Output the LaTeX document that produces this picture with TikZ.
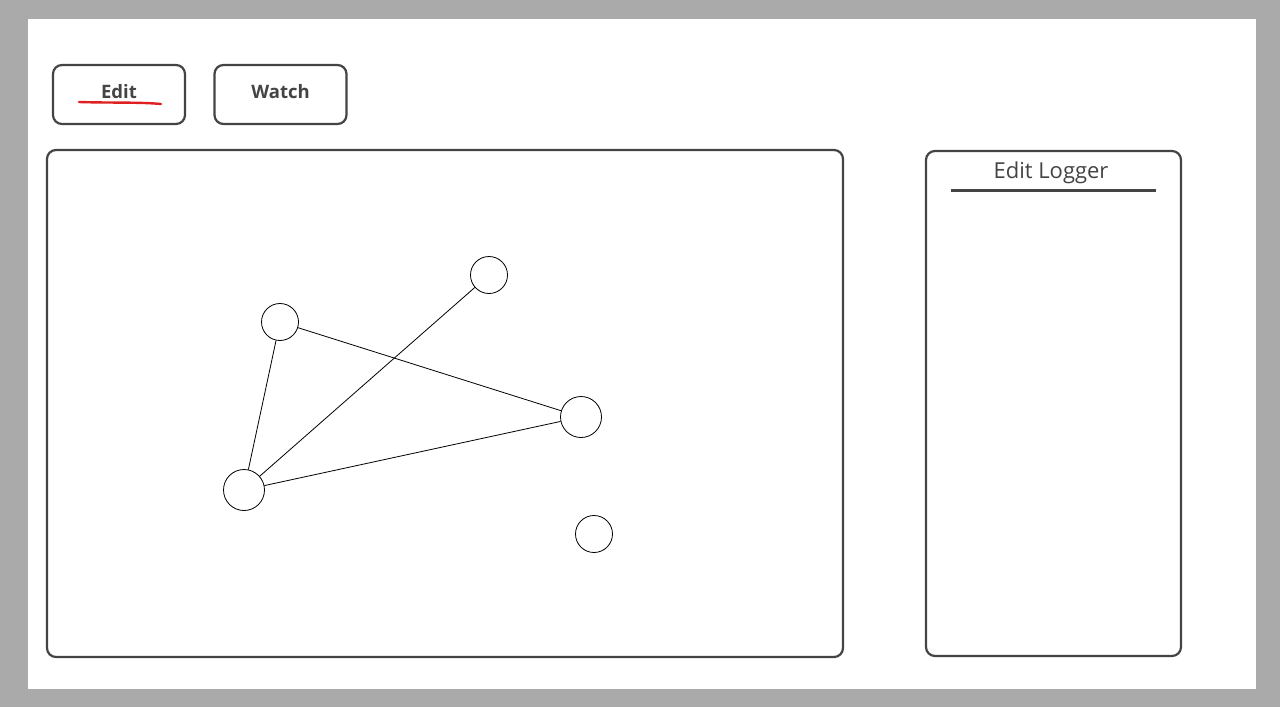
\documentclass[tikz,border=0pt]{standalone}
\usepackage{fontspec}
\setmainfont{Open Sans}
\definecolor{bggray}{HTML}{AAAAAA}
\definecolor{ink}{HTML}{444444}
\definecolor{redline}{HTML}{E02020}
\begin{document}
\begin{tikzpicture}[x=1pt,y=-1pt,
  panel/.style={draw=ink,line width=2.2pt,rounded corners=9pt},
  btn/.style={draw=ink,line width=2.2pt,rounded corners=9pt,minimum width=132pt,minimum height=59pt},
  btntext/.style={font=\fontsize{18.5}{20}\selectfont\bfseries,text=ink,inner sep=0pt},
  vert/.style={circle,draw=black,line width=0.8pt,fill=white,inner sep=0pt},
  edge/.style={draw=black,line width=0.8pt}]
\fill[bggray] (0,0) rectangle (1280,707);
\useasboundingbox (0,0) rectangle (1280,707);
\fill[white] (28,19) rectangle (1256,689);
% buttons
\node[btn] (edit) at (119,94.5) {};
\node[btn] (watch) at (280.5,94.5) {};
\node[btntext] (edittext) at (119,92) {Edit};
\node[btntext] (watchtext) at (280.5,92) {Watch};
\draw[redline,line width=2.4pt,line cap=round] (79,102) .. controls (110,103) and (140,102) .. (161,104);
% panels
\draw[panel] (47,150) rectangle (843,657);
\draw[panel] (926,151) rectangle (1181,656);
\node[font=\fontsize{22}{24}\selectfont,text=ink,inner sep=0pt] (title) at (1051,173) {Edit Logger};
\draw[ink,line width=3pt] (951,190) -- (1156,190);
% graph
\node[vert,minimum size=37pt] (a) at (280,322) {};
\node[vert,minimum size=37pt] (b) at (489,275) {};
\node[vert,minimum size=41pt] (c) at (581,417) {};
\node[vert,minimum size=41pt] (d) at (244,490) {};
\node[vert,minimum size=37pt] (e) at (594,534) {};
\draw[edge] (a) -- (d);
\draw[edge] (a) -- (c);
\draw[edge] (b) -- (d);
\draw[edge] (d) -- (c);
\end{tikzpicture}
\end{document}
